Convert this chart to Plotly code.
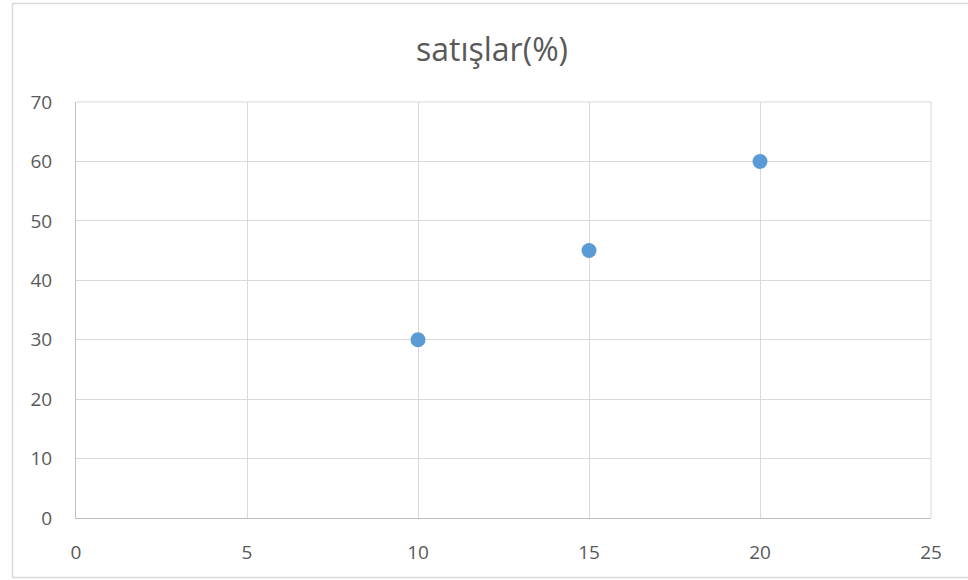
import plotly.graph_objects as go

# Sales share by x value
x_values = [10, 15, 20]
sales_pct = [30, 45, 60]
x_ticks = [0, 5, 10, 15, 20, 25]
y_ticks = [0, 10, 20, 30, 40, 50, 60, 70]

W, H = 968, 580
L, R, T, B = 76, 37, 102, 62
pw, ph = W - L - R, H - T - B

fig = go.Figure()
fig.add_trace(go.Scatter(
    x=x_values, y=sales_pct, mode="markers",
    marker=dict(color="#5B9BD5", size=15, line=dict(width=0)),
    showlegend=False, cliponaxis=False,
))

font = "Open Sans, DejaVu Sans, sans-serif"
tick_font = dict(family=font, size=19, color="#595959")
fig.update_layout(
    width=W, height=H,
    margin=dict(l=L, r=R, t=T, b=B),
    paper_bgcolor="white", plot_bgcolor="white",
    title=dict(text="satışlar(%)", x=492 / W, xanchor="center",
               y=1 - 50 / H, yanchor="middle",
               font=dict(family=font, size=32, color="#595959")),
    font=dict(family=font, size=19, color="#595959"),
    xaxis=dict(range=[0, 25], tickvals=x_ticks, showgrid=True, gridcolor="#D9D9D9",
               gridwidth=1, zeroline=False, showline=True, linecolor="#BFBFBF",
               linewidth=1, ticks="", ticklen=0, fixedrange=True,
               ticklabelstandoff=17, tickfont=tick_font),
    yaxis=dict(range=[0, 70], tickvals=y_ticks, showgrid=True, gridcolor="#D9D9D9",
               gridwidth=1, zeroline=False, showline=True, linecolor="#BFBFBF",
               linewidth=1, ticks="", ticklen=0, fixedrange=True,
               ticklabelstandoff=19, tickfont=tick_font),
)

# closing frame lines on top and right of the plot area
fig.add_shape(type="line", xref="paper", yref="paper", x0=0, x1=1, y0=1, y1=1,
              line=dict(color="#D9D9D9", width=1))
fig.add_shape(type="line", xref="paper", yref="paper", x0=1, x1=1, y0=0, y1=1,
              line=dict(color="#D9D9D9", width=1))

# outer chart border
fig.add_shape(type="rect", xref="paper", yref="paper",
              x0=(12.5 - L) / pw, x1=(975 - L) / pw,
              y0=-(577.5 - (T + ph)) / ph, y1=1 + (T - 3.5) / ph,
              line=dict(color="#D9D9D9", width=1.5), fillcolor="rgba(0,0,0,0)",
              layer="below")

fig.write_html("out.html")
